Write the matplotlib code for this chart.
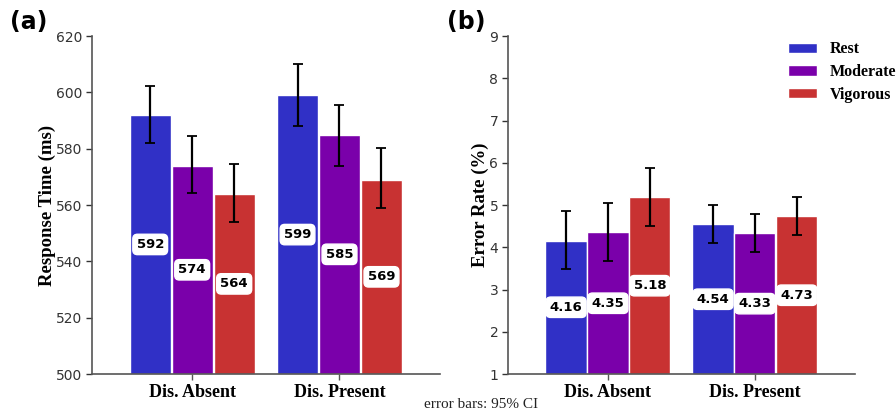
import matplotlib
matplotlib.use("Agg")
import matplotlib.pyplot as plt
import numpy as np
from matplotlib.patches import Patch

categories = ["Dis. Absent", "Dis. Present"]
conditions = ["Rest", "Moderate", "Vigorous"]
colors = ["#3030c6", "#7a00aa", "#c83232"]

rt_rest = [592, 599]
rt_moderate = [574, 585]
rt_vigorous = [564, 569]
rt_ci_low_rest = [582.0, 588.2]
rt_ci_high_rest = [602.4, 610.1]
rt_ci_low_moderate = [564.4, 573.8]
rt_ci_high_moderate = [584.5, 595.5]
rt_ci_low_vigorous = [554.1, 558.8]
rt_ci_high_vigorous = [574.6, 580.1]

er_rest = [4.16, 4.54]
er_moderate = [4.35, 4.33]
er_vigorous = [5.18, 4.73]
er_ci_low_rest = [3.49, 4.09]
er_ci_high_rest = [4.86, 5.01]
er_ci_low_moderate = [3.67, 3.88]
er_ci_high_moderate = [5.04, 4.79]
er_ci_low_vigorous = [4.50, 4.28]
er_ci_high_vigorous = [5.87, 5.18]

rt_ticks = [500, 520, 540, 560, 580, 600, 620]
er_ticks = [1, 2, 3, 4, 5, 6, 7, 8, 9]

fig = plt.figure(figsize=(8.96, 4.12), dpi=100)
axA = fig.add_axes([0.1027, 0.0922, 0.388, 0.8204])
axB = fig.add_axes([0.567, 0.0922, 0.387, 0.8204])

serif = "Liberation Serif"
width = 0.28


def draw(ax, means, lows, highs, ymin, ymax, ticks, fmt, ylabel):
    x = np.arange(len(categories))
    for i, (m, lo, hi) in enumerate(zip(means, lows, highs)):
        m = np.array(m, float)
        lo = np.array(lo, float)
        hi = np.array(hi, float)
        xs = x + (i - 1) * (width + 0.005)
        ax.bar(xs, m - ymin, width, bottom=ymin, color=colors[i],
               edgecolor="white", linewidth=1.0, zorder=2)
        ax.errorbar(xs, m, yerr=[m - lo, hi - m], fmt="none", ecolor="black",
                    elinewidth=1.6, capsize=3.5, capthick=1.3, zorder=3)
        for xi, mi in zip(xs, m):
            ax.text(xi, (ymin + mi) / 2, fmt.format(mi), ha="center", va="center",
                    fontsize=9.5, fontweight="bold", color="black", zorder=4,
                    bbox=dict(boxstyle="round,pad=0.28,rounding_size=0.35",
                              fc="white", ec="white"))
    ax.set_ylim(ymin, ymax)
    ax.set_xlim(-0.68, 1.68)
    ax.set_yticks(ticks)
    ax.set_xticks(x)
    ax.set_xticklabels(categories, fontfamily=serif, fontweight="bold", fontsize=13)
    ax.tick_params(axis="y", labelsize=10, colors="#333333", length=4, width=1, pad=3)
    ax.tick_params(axis="x", length=4, width=1, colors="#555555", pad=3)
    for lab in ax.get_xticklabels():
        lab.set_color("black")
    for s in ["top", "right"]:
        ax.spines[s].set_visible(False)
    for s in ["left", "bottom"]:
        ax.spines[s].set_color("#555555")
        ax.spines[s].set_linewidth(1.2)
    ax.set_ylabel(ylabel, fontfamily=serif, fontweight="bold", fontsize=13.5, labelpad=0)


draw(axA, [rt_rest, rt_moderate, rt_vigorous],
     [rt_ci_low_rest, rt_ci_low_moderate, rt_ci_low_vigorous],
     [rt_ci_high_rest, rt_ci_high_moderate, rt_ci_high_vigorous],
     500, 620, rt_ticks, "{:.0f}", "Response Time (ms)")
draw(axB, [er_rest, er_moderate, er_vigorous],
     [er_ci_low_rest, er_ci_low_moderate, er_ci_low_vigorous],
     [er_ci_high_rest, er_ci_high_moderate, er_ci_high_vigorous],
     1, 9, er_ticks, "{:.2f}", "Error Rate (%)")

fig.text(10 / 896, 1 - 22 / 412, "(a)", fontsize=17, fontweight="bold", va="center", ha="left")
fig.text(447 / 896, 1 - 22 / 412, "(b)", fontsize=17, fontweight="bold", va="center", ha="left")

handles = [Patch(facecolor=c, edgecolor="white") for c in colors]
fig.legend(handles, conditions, loc="upper left", bbox_to_anchor=(774 / 896, 1 - 27 / 412),
           frameon=False, prop=dict(family=serif, weight="bold", size=11.5),
           handlelength=1.8, handleheight=0.6, handletextpad=0.8, labelspacing=0.42)

fig.text(481 / 896, 1 - 404 / 412, "error bars: 95% CI", fontfamily=serif, fontsize=11,
         ha="center", va="center", color="#222222")

fig.savefig("out.png", dpi=100)
